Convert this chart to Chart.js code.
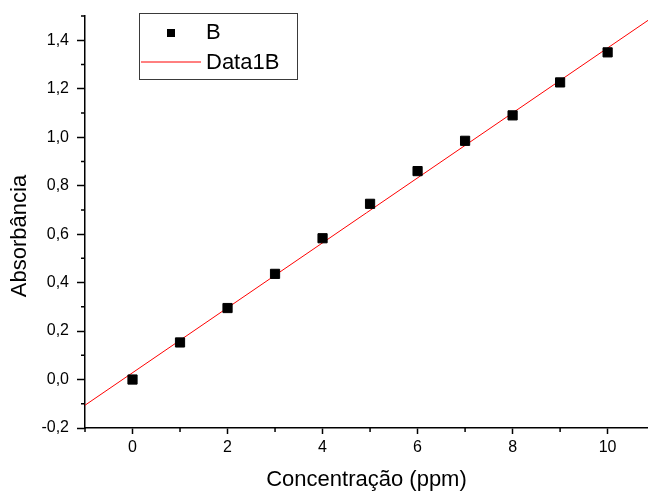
<!DOCTYPE html>
<html lang="pt">
<head>
  <meta charset="UTF-8">
  <title>Absorbância x Concentração</title>
  <style>
    html, body {
      margin: 0;
      padding: 0;
      background: #fff;
      overflow: hidden;
    }
    canvas {
      display: block;
    }
  </style>
</head>
<body>
  <canvas id="chart" width="648" height="491"></canvas>

  <script src="https://cdn.jsdelivr.net/npm/chart.js"></script>
  <script>
    // measured points (series B)
    const concentration = [0, 1, 2, 3, 4, 5, 6, 7, 8, 9, 10];
    const absorbance = [0.0, 0.153, 0.295, 0.436, 0.583, 0.725, 0.860, 0.985, 1.090, 1.226, 1.350];

    // linear fit (Data1B), ends of the drawn line
    const fitX = [-1, 10.85];
    const fitY = [-0.106, 1.482];

    // axis ticks
    const xMajor = [0, 2, 4, 6, 8, 10];
    const xMinor = [-1, 1, 3, 5, 7, 9];
    const yMajor = [-0.2, 0, 0.2, 0.4, 0.6, 0.8, 1.0, 1.2, 1.4];
    const yMinor = [-0.1, 0.1, 0.3, 0.5, 0.7, 0.9, 1.1, 1.3, 1.5];

    const FONT = '"Liberation Sans", Arial, sans-serif';
    const Y_TITLE = 'Absorbância';

    // short ticks between the labelled ones
    const minorTicks = {
      id: 'minorTicks',
      afterDraw(chart) {
        const ctx = chart.ctx;
        const x = chart.scales.x, y = chart.scales.y;
        ctx.save();
        ctx.strokeStyle = '#000';
        ctx.lineWidth = 1.5;
        ctx.beginPath();
        xMinor.forEach(v => {
          const px = x.getPixelForValue(v);
          ctx.moveTo(px, x.top);
          ctx.lineTo(px, x.top + 4);
        });
        yMinor.forEach(v => {
          const py = y.getPixelForValue(v);
          ctx.moveTo(y.right, py);
          ctx.lineTo(y.right - 4, py);
        });
        ctx.stroke();
        ctx.restore();
      }
    };

    // y title sits a bit below the middle of the axis in the original
    const yTitle = {
      id: 'yTitle',
      afterDraw(chart) {
        const ctx = chart.ctx;
        const a = chart.chartArea;
        ctx.save();
        ctx.translate(20, (a.top + a.bottom) / 2 + 14);
        ctx.rotate(-Math.PI / 2);
        ctx.font = '22px ' + FONT;
        ctx.fillStyle = '#000';
        ctx.textAlign = 'center';
        ctx.textBaseline = 'middle';
        ctx.fillText(Y_TITLE, 0, 0);
        ctx.restore();
      }
    };

    // boxed legend in the top-left corner, like the original plot
    const boxLegend = {
      id: 'boxLegend',
      afterDraw(chart) {
        const ctx = chart.ctx;
        const ds = chart.data.datasets;
        ctx.save();
        ctx.fillStyle = '#fff';
        ctx.fillRect(139.5, 13.5, 158, 66);
        ctx.strokeStyle = '#3a3a3a';
        ctx.lineWidth = 1;
        ctx.strokeRect(139.5, 13.5, 158, 66);

        ctx.fillStyle = '#000';
        ctx.fillRect(167, 29, 8, 8);
        ctx.strokeStyle = ds[1].borderColor;
        ctx.beginPath();
        ctx.moveTo(141, 62);
        ctx.lineTo(201, 62);
        ctx.stroke();

        ctx.font = '22px ' + FONT;
        ctx.textBaseline = 'middle';
        ctx.fillStyle = '#000';
        ctx.fillText(ds[0].label, 206, 33);
        ctx.fillText(ds[1].label, 206, 63);
        ctx.restore();
      }
    };

    const commaLabel = v => v.toFixed(1).replace('.', ',');

    new Chart(document.getElementById('chart'), {
      type: 'scatter',
      data: {
        datasets: [
          {
            label: 'B',
            data: concentration.map((c, i) => ({ x: c, y: absorbance[i] })),
            pointStyle: 'rect',
            pointRadius: 6.5,
            backgroundColor: '#000',
            borderColor: '#000',
            borderWidth: 1
          },
          {
            label: 'Data1B',
            data: fitX.map((c, i) => ({ x: c, y: fitY[i] })),
            showLine: true,
            pointRadius: 0,
            borderColor: '#ff0000',
            borderWidth: 1
          }
        ]
      },
      options: {
        responsive: false,
        devicePixelRatio: 1,
        animation: false,
        layout: { autoPadding: false, padding: { top: 16, right: 0, left: 0, bottom: 0 } },
        plugins: {
          legend: { display: false },
          tooltip: { enabled: false }
        },
        scales: {
          x: {
            type: 'linear',
            min: -1,
            max: 10.85,
            afterBuildTicks: s => { s.ticks = xMajor.map(v => ({ value: v })); },
            afterFit: s => { s.height = 63; s.paddingLeft = 0; s.paddingRight = 0; },
            grid: { drawOnChartArea: false, tickLength: 6, tickColor: '#000', tickWidth: 1.5 },
            border: { display: true, color: '#000', width: 1.5 },
            ticks: {
              autoSkip: false,
              maxRotation: 0,
              padding: 4,
              color: '#000',
              font: { family: FONT, size: 16 },
              callback: v => String(v)
            },
            title: {
              display: true,
              text: 'Concentração (ppm)',
              color: '#000',
              font: { family: FONT, size: 22, lineHeight: 1 },
              padding: 0
            }
          },
          y: {
            type: 'linear',
            min: -0.2,
            max: 1.5,
            afterBuildTicks: s => { s.ticks = yMajor.map(v => ({ value: v })); },
            afterFit: s => { s.width = 85; s.paddingTop = 0; s.paddingBottom = 0; },
            grid: { drawOnChartArea: false, tickLength: 8, tickColor: '#000', tickWidth: 1.5 },
            border: { display: true, color: '#000', width: 1.5 },
            ticks: {
              autoSkip: false,
              padding: 8,
              color: '#000',
              font: { family: FONT, size: 16 },
              callback: v => commaLabel(v)
            }
          }
        }
      },
      plugins: [minorTicks, yTitle, boxLegend]
    });
  </script>
</body>
</html>
